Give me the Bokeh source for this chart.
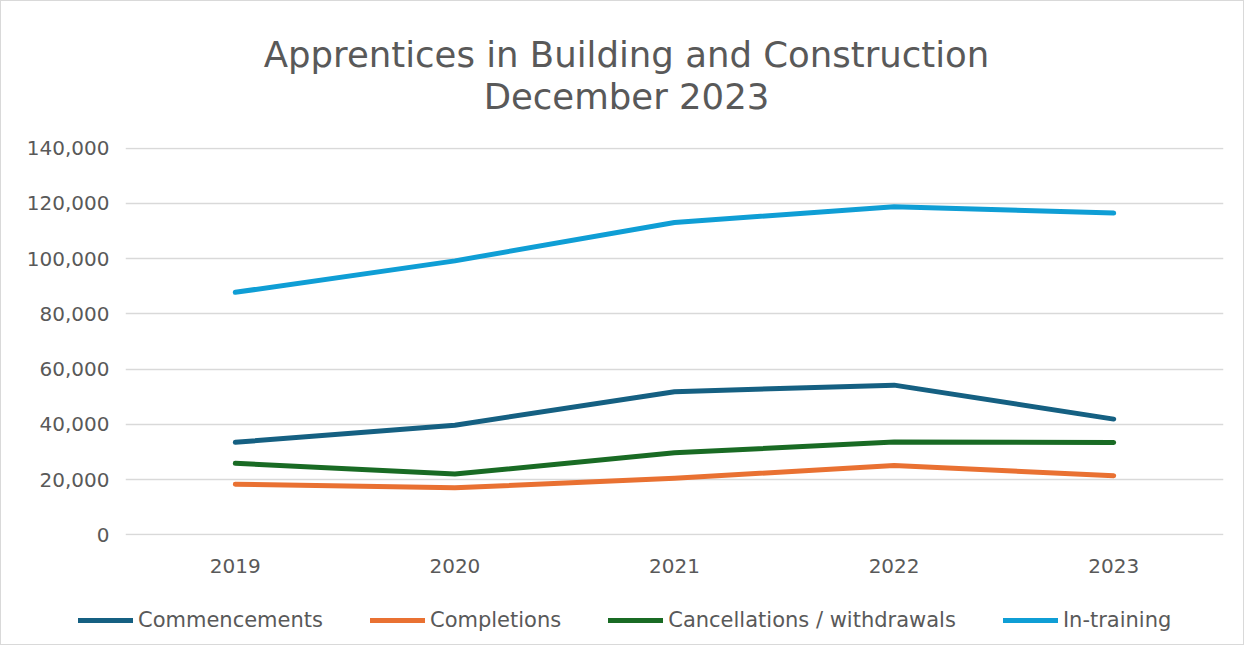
from bokeh.plotting import figure
from bokeh.models import Range1d, NumeralTickFormatter, Legend, LegendItem, FixedTicker
from bokeh.layouts import column
from bokeh.core.properties import value
from bokeh.embed import file_html
from bokeh.resources import INLINE

years = ["2019", "2020", "2021", "2022", "2023"]
commencements = [33500, 39700, 51800, 54200, 41900]
completions = [18300, 17000, 20500, 25100, 21400]
cancellations = [25900, 22000, 29700, 33600, 33400]
in_training = [87800, 99200, 113100, 118800, 116500]
y_ticks = [0, 20000, 40000, 60000, 80000, 100000, 120000, 140000]
title_lines = ["Apprentices in Building and Construction", "December 2023"]

series = [
    ("Commencements", commencements, "#156082"),
    ("Completions", completions, "#E97132"),
    ("Cancellations / withdrawals", cancellations, "#196B24"),
    ("In-training", in_training, "#0F9ED5"),
]

FONT = "DejaVu Sans"
GREY = "#595959"
FW = 1098
ML, MR = 124, 20


def strip(height, x_range, y_range, fw=FW, ml=ML, mr=MR):
    fig = figure(frame_width=fw, frame_height=height, x_range=x_range, y_range=y_range,
                 output_backend="svg", toolbar_location=None,
                 x_axis_location=None, y_axis_location=None,
                 min_border_left=ml, min_border_right=mr, min_border_top=0, min_border_bottom=0)
    fig.outline_line_color = None
    fig.background_fill_color = "white"
    fig.border_fill_color = "white"
    fig.grid.visible = False
    return fig


# ---- title strip (x/y in strip pixels) ----
TH = 120
t = strip(TH, Range1d(0, FW), Range1d(TH, 0))
t.text(x=[501, 501], y=[53, 95], text=title_lines, text_align="center", text_baseline="middle",
       text_font=value(FONT), text_font_size="35.5px", text_color=GREY)

# ---- main chart ----
p = figure(frame_width=FW, frame_height=388, x_range=years, y_range=Range1d(-250, 140250),
           output_backend="svg", toolbar_location=None,
           min_border_left=ML, min_border_right=MR, min_border_top=26, min_border_bottom=60)
p.outline_line_color = None
p.background_fill_color = "white"
p.border_fill_color = "white"

for name, vals, col in series:
    p.line(years, vals, line_color=col, line_width=5, line_cap="round", line_join="round")

p.xgrid.grid_line_color = None
p.ygrid.grid_line_color = "#d9d9d9"
p.ygrid.grid_line_width = 1.5

for ax in (p.xaxis[0], p.yaxis[0]):
    ax.axis_line_color = None
    ax.major_tick_line_color = None
    ax.minor_tick_line_color = None
    ax.major_tick_out = 0
    ax.major_tick_in = 0
    ax.minor_tick_out = 0
    ax.minor_tick_in = 0
    ax.major_label_text_font = FONT
    ax.major_label_text_font_size = "20px"
    ax.major_label_text_color = GREY
p.yaxis[0].ticker = FixedTicker(ticks=y_ticks)
p.yaxis[0].formatter = NumeralTickFormatter(format="0,0")
p.yaxis[0].major_label_standoff = 16
p.xaxis[0].major_label_standoff = 23

# ---- legend strip: hidden copies of the series supply the legend swatches ----
LH = 49
lg = strip(LH, years, Range1d(0, 140000), fw=ML + FW + MR, ml=0, mr=0)
items = []
for name, vals, col in series:
    r = lg.line(years, vals, line_color=col, line_width=5, line_cap="round", visible=False)
    items.append(LegendItem(label=name, renderers=[r]))
legend = Legend(items=items, orientation="horizontal", location=(77, 12),
                label_text_font=FONT, label_text_font_size="21px", label_text_color=GREY,
                glyph_width=55, glyph_height=24, label_standoff=5, spacing=47,
                inactive_fill_alpha=0,
                border_line_color=None, background_fill_alpha=0, padding=0, margin=0)
lg.add_layout(legend)

layout = column(t, p, lg, spacing=0)
layout.styles = {"border": "1px solid #d9d9d9"}

open("out.html", "w").write(file_html(layout, INLINE))
